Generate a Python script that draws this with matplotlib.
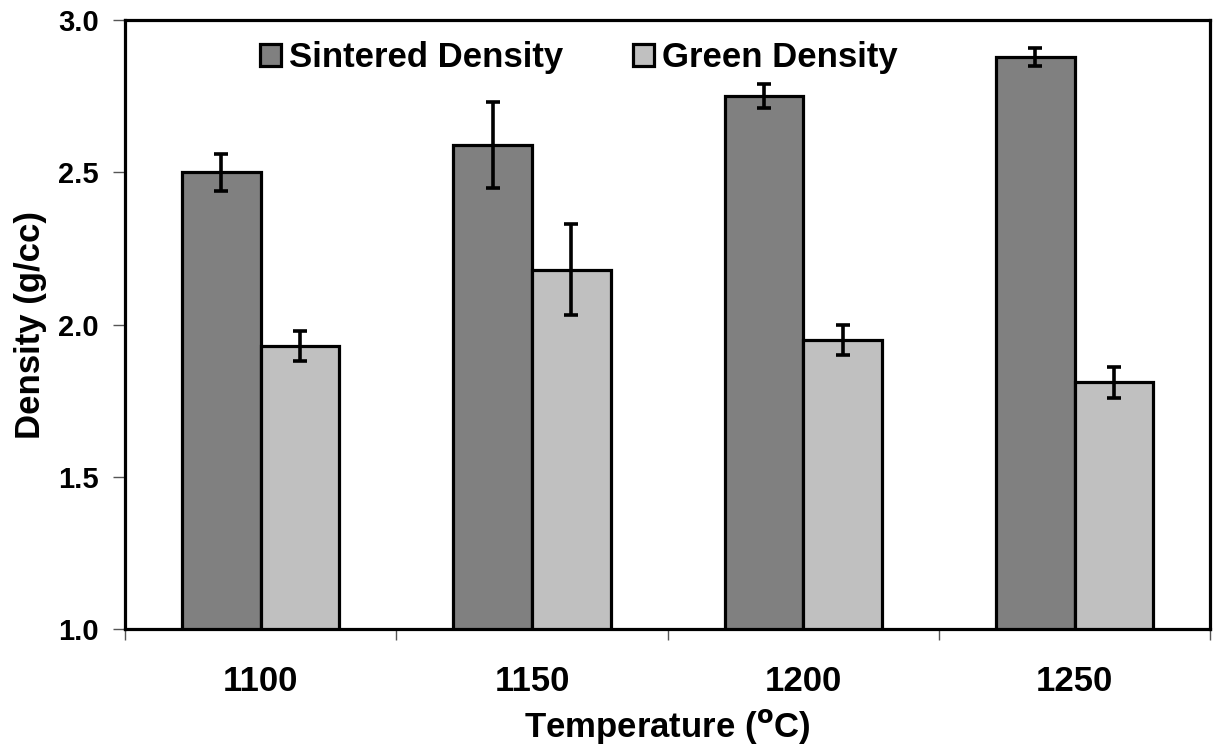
import numpy as np
import matplotlib
matplotlib.use('Agg')
import matplotlib.pyplot as plt

temps = ['1100', '1150', '1200', '1250']
sintered = [2.50, 2.59, 2.75, 2.88]
sintered_err = [0.06, 0.14, 0.04, 0.03]
green = [1.93, 2.18, 1.95, 1.81]
green_err = [0.05, 0.15, 0.05, 0.05]

plt.rcParams['font.family'] = ['Liberation Sans', 'DejaVu Sans']
plt.rcParams['font.weight'] = 'bold'

fig = plt.figure(figsize=(12.25, 7.48), dpi=100)
ax = fig.add_axes([0.102, 0.159, 0.886, 0.814])

x = np.arange(len(temps))
w = 0.29
ekw = dict(elinewidth=2.6, capthick=2.6, capsize=5, ecolor='black')
ax.bar(x - w/2, sintered, w, yerr=sintered_err, color='#808080',
       edgecolor='black', linewidth=2.3, label='Sintered Density', error_kw=ekw, zorder=2)
ax.bar(x + w/2, green, w, yerr=green_err, color='#c0c0c0',
       edgecolor='black', linewidth=2.3, label='Green Density', error_kw=ekw, zorder=2)

ax.set_xlim(-0.5, len(temps) - 0.5)
ax.set_ylim(1.0, 3.0)
yt = [1.0, 1.5, 2.0, 2.5, 3.0]
ax.set_yticks(yt)
ax.set_yticklabels(['%.1f' % v for v in yt], fontsize=21, fontweight='bold')

# category boundaries get the tick marks, labels sit on minor ticks
ax.set_xticks(np.arange(-0.5, len(temps), 1.0))
ax.set_xticklabels([])
ax.set_xticks(x, minor=True)
ax.set_xticklabels(temps, minor=True, fontsize=25, fontweight='bold')
ax.tick_params(axis='x', which='minor', length=0, pad=26)
ax.tick_params(axis='x', which='major', length=8, width=1, color='#555555', direction='out')
ax.tick_params(axis='y', length=9, width=1, color='#555555', direction='out', pad=10)

for s in ax.spines.values():
    s.set_linewidth(2.3)

ax.set_ylabel('Density (g/cc)', fontsize=25, fontweight='bold', labelpad=8)
ax.set_xlabel('Temperature ($^{\\mathbf{o}}$C)', fontsize=25, fontweight='bold', labelpad=6)

leg = ax.legend(loc='upper left', bbox_to_anchor=(0.105, 1.0), ncol=2, frameon=False,
                fontsize=25, handlelength=0.6, handleheight=0.6, handletextpad=0.25,
                columnspacing=2.0, borderaxespad=0.2)
for t in leg.get_texts():
    t.set_fontweight('bold')

plt.savefig('out.png', dpi=100)
